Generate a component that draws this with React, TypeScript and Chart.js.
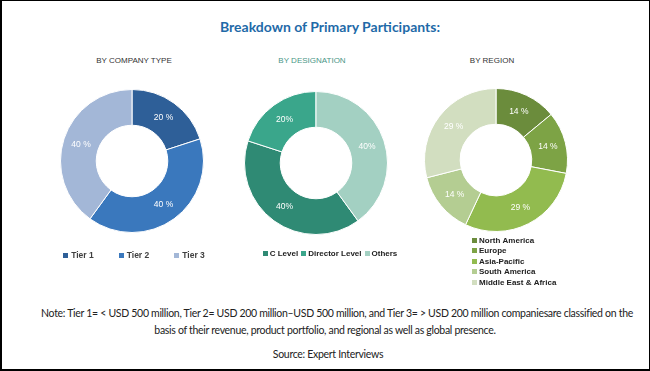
import React, { useEffect, useRef } from "react";
import { Chart, ArcElement, DoughnutController } from "chart.js";

Chart.register(ArcElement, DoughnutController);

const titleText = "Breakdown of Primary Participants:";

const companyTitle = "BY COMPANY TYPE";
const companyLabels = ["Tier 1", "Tier 2", "Tier 3"];
const companyValues = [20, 40, 40];
const companyColors = ["#2e5f98", "#3a78bd", "#a3b7d7"];

const designationTitle = "BY DESIGNATION";
const designationLabels = ["C Level", "Director Level", "Others"];
const designationValues = [40, 20, 40];
const designationColors = ["#2f8a74", "#3aa68b", "#a3d0c2"];

const regionTitle = "BY REGION";
const regionLabels = ["North America", "Europe", "Asia-Pacific", "South America", "Middle East & Africa"];
const regionValues = [14, 14, 29, 14, 29];
const regionColors = ["#6b8c3c", "#7da345", "#92bb4f", "#b4cd92", "#d2dec0"];

const noteLine1 =
  "Note: Tier 1= < USD 500  million, Tier 2= USD 200 million\u2013USD 500 million, and Tier 3= > USD 200  million companiesare classified on the";
const noteLine2 = "basis of their revenue, product portfolio, and regional as well as global presence.";
const sourceText = "Source: Expert Interviews";

const sliceLabels = {
  id: "sliceLabels",
  afterDatasetsDraw(chart: any, _args: any, opts: any) {
    const ctx = chart.ctx;
    const meta = chart.getDatasetMeta(0);
    const data = chart.data.datasets[0].data;
    ctx.save();
    ctx.font = opts.font;
    ctx.fillStyle = opts.color;
    ctx.textAlign = "center";
    ctx.textBaseline = "middle";
    meta.data.forEach((arc: any, i: number) => {
      const p = arc.tooltipPosition(false);
      ctx.fillText(`${data[i]}${opts.suffix}`, p.x, p.y);
    });
    ctx.restore();
  },
};

const boxLegend = {
  id: "boxLegend",
  afterDraw(chart: any, _args: any, opts: any) {
    const { ctx, chartArea } = chart;
    const labels: string[] = chart.data.labels;
    const colors: string[] = chart.data.datasets[0].backgroundColor;
    ctx.save();
    ctx.font = opts.font;
    ctx.textBaseline = "middle";
    ctx.textAlign = "left";
    const box = opts.box;
    const gap = opts.textGap;
    if (opts.mode === "row") {
      const widths = labels.map((l) => box + gap + ctx.measureText(l).width);
      const total = widths.reduce((a, b) => a + b, 0) + opts.itemGap * (labels.length - 1);
      let x = (chartArea.left + chartArea.right) / 2 - total / 2 + (opts.offsetX || 0);
      const y = chartArea.bottom + opts.offsetY;
      labels.forEach((l, i) => {
        ctx.fillStyle = colors[i];
        ctx.fillRect(Math.round(x), Math.round(y - box / 2), box, box);
        ctx.fillStyle = opts.color;
        ctx.fillText(l, x + box + gap, y + 0.5);
        x += widths[i] + opts.itemGap;
      });
    } else {
      const x = chartArea.left + opts.offsetX;
      labels.forEach((l, i) => {
        const y = chartArea.bottom + opts.offsetY + i * opts.lineHeight;
        ctx.fillStyle = colors[i];
        ctx.fillRect(Math.round(x), Math.round(y - box / 2), box, box);
        ctx.fillStyle = opts.color;
        ctx.fillText(l, x + box + gap, y + 0.5);
      });
    }
    ctx.restore();
  },
};

type DonutProps = {
  labels: string[];
  values: number[];
  colors: string[];
  left: number;
  top: number;
  width: number;
  height: number;
  padding: { left: number; right: number; top: number; bottom: number };
  rotation: number;
  suffix: string;
  legend: any;
};

function Donut(props: DonutProps) {
  const ref = useRef<HTMLCanvasElement | null>(null);
  useEffect(() => {
    if (!ref.current) return;
    const chart = new Chart(ref.current, {
      type: "doughnut",
      data: {
        labels: props.labels,
        datasets: [
          {
            data: props.values,
            backgroundColor: props.colors,
            borderColor: "#ffffff",
            borderWidth: 1,
          },
        ],
      },
      options: {
        responsive: false,
        animation: false,
        events: [],
        cutout: "50%",
        rotation: props.rotation,
        layout: { padding: props.padding },
        plugins: {
          legend: { display: false },
          tooltip: { enabled: false },
          sliceLabels: { font: "8.5px 'Liberation Sans', Arial, sans-serif", color: "#ffffff", suffix: props.suffix },
          boxLegend: props.legend,
        } as any,
      },
      plugins: [sliceLabels, boxLegend],
    });
    return () => chart.destroy();
  }, []);
  return (
    <canvas
      ref={ref}
      width={props.width}
      height={props.height}
      style={{ position: "absolute", left: props.left, top: props.top, width: props.width, height: props.height }}
    />
  );
}

function Label(p: { x: number; y: number; style: React.CSSProperties; children: React.ReactNode }) {
  return (
    <div
      style={{
        position: "absolute",
        left: p.x,
        top: p.y,
        transform: "translate(-50%, -50%)",
        whiteSpace: "nowrap",
        lineHeight: 1,
        ...p.style,
      }}
    >
      {p.children}
    </div>
  );
}

export default function App() {
  const sub: React.CSSProperties = { fontFamily: "'Liberation Sans', Arial, sans-serif", fontSize: 8 };
  const note: React.CSSProperties = {
    fontFamily: "Lato, 'Open Sans', sans-serif",
    fontSize: 10.5,
    color: "#222",
    letterSpacing: -0.3,
  };
  return (
    <div
      style={{
        position: "absolute",
        left: 0,
        top: 0,
        width: 650,
        height: 371,
        background: "#ffffff",
        overflow: "hidden",
        boxSizing: "border-box",
        borderTop: "1px solid #000",
        borderLeft: "2px solid #000",
        borderRight: "1px solid #000",
        borderBottom: "2px solid #000",
      }}
    >
      <div style={{ position: "absolute", left: -2, top: -1, width: 650, height: 371 }}>
        <Label x={330} y={27} style={{ fontFamily: "Lato, sans-serif", fontWeight: 700, fontSize: 14, color: "#1f6aa8" }}>
          {titleText}
        </Label>
        <Label x={134} y={61} style={{ ...sub, color: "#333" }}>
          {companyTitle}
        </Label>
        <Label x={312} y={61} style={{ ...sub, color: "#4a9686" }}>
          {designationTitle}
        </Label>
        <Label x={492} y={61} style={{ ...sub, color: "#333" }}>
          {regionTitle}
        </Label>

        <Donut
          labels={companyLabels}
          values={companyValues}
          colors={companyColors}
          left={40}
          top={80}
          width={184}
          height={190}
          padding={{ left: 20, right: 20, top: 9, bottom: 37 }}
          rotation={0}
          suffix=" %"
          legend={{
            mode: "row",
            font: "bold 8.5px 'Liberation Sans', Arial, sans-serif",
            color: "#404040",
            box: 5,
            textGap: 3,
            itemGap: 25,
            offsetX: 2,
            offsetY: 22,
          }}
        />
        <Donut
          labels={designationLabels}
          values={designationValues}
          colors={designationColors}
          left={224}
          top={80}
          width={184}
          height={190}
          padding={{ left: 20, right: 20, top: 11, bottom: 35 }}
          rotation={144}
          suffix="%"
          legend={{
            mode: "row",
            font: "bold 8px 'Liberation Sans', Arial, sans-serif",
            color: "#222",
            box: 5,
            textGap: 2,
            itemGap: 3,
            offsetX: 14,
            offsetY: 18,
          }}
        />
        <Donut
          labels={regionLabels}
          values={regionValues}
          colors={regionColors}
          left={404}
          top={80}
          width={184}
          height={220}
          padding={{ left: 18, right: 18, top: 8, bottom: 68 }}
          rotation={0}
          suffix=" %"
          legend={{
            mode: "column",
            font: "bold 8px 'Liberation Sans', Arial, sans-serif",
            color: "#222",
            box: 5,
            textGap: 2,
            offsetX: 50,
            offsetY: 8,
            lineHeight: 10.5,
          }}
        />

        <Label x={337} y={313} style={note}>
          {noteLine1}
        </Label>
        <Label x={325} y={330} style={note}>
          {noteLine2}
        </Label>
        <Label x={328} y={354} style={note}>
          {sourceText}
        </Label>
      </div>
    </div>
  );
}
